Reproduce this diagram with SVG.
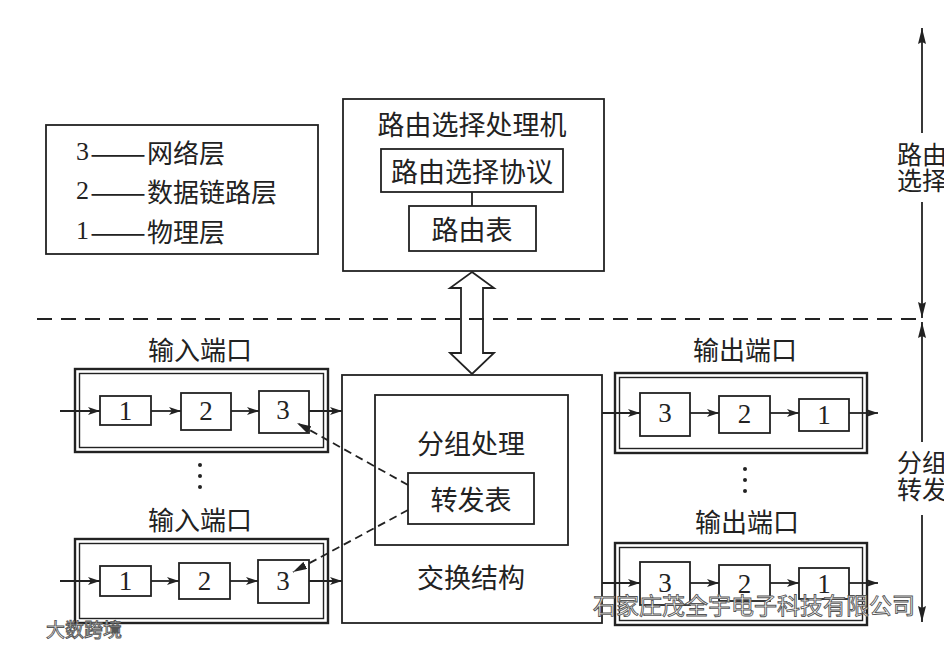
<svg xmlns="http://www.w3.org/2000/svg" width="944" height="645" viewBox="0 0 944 645">
<defs>
<style>
.box{fill:none;stroke:#222;stroke-width:1.8}
.outer{fill:none;stroke:#222;stroke-width:2.4}
.inner{fill:none;stroke:#222;stroke-width:1.4}
.ln{stroke:#222;stroke-width:1.8;fill:none}
.cn{font-family:"Noto Sans CJK SC","Noto Sans CJK JP",sans-serif;fill:#222;dominant-baseline:central}
.num{font-family:"Liberation Serif",serif;fill:#222;dominant-baseline:central}
.wm{font-family:"Noto Sans CJK SC",sans-serif;fill:#fff;stroke:#555;stroke-width:0.9;dominant-baseline:central}
</style>
<marker id="ah" viewBox="0 0 12 8" refX="12" refY="4" markerWidth="12" markerHeight="8" markerUnits="userSpaceOnUse" orient="auto">
<path d="M0,0 L12,4 L0,8 L3,4 Z" fill="#222"/>
</marker>
<marker id="ahl" viewBox="0 0 14 8" refX="14" refY="4" markerWidth="14" markerHeight="8" markerUnits="userSpaceOnUse" orient="auto">
<path d="M0,0 L14,4 L0,8 Z" fill="#222"/>
</marker>
<marker id="ahv" viewBox="0 0 16 8" refX="16" refY="4" markerWidth="16" markerHeight="8" markerUnits="userSpaceOnUse" orient="auto">
<path d="M0,0 L16,4 L0,8 L2,4 Z" fill="#222"/>
</marker>
</defs>
<rect width="944" height="645" fill="#fff"/>

<g id="legend">
<rect class="box" x="46" y="125" width="272" height="129"/>
<text class="cn" y="151" font-size="26"><tspan class="num" x="76">3</tspan><tspan x="90" textLength="56" lengthAdjust="spacingAndGlyphs">——</tspan><tspan x="147">网络层</tspan></text>
<text class="cn" y="190" font-size="26"><tspan class="num" x="76">2</tspan><tspan x="90" textLength="56" lengthAdjust="spacingAndGlyphs">——</tspan><tspan x="147">数据链路层</tspan></text>
<text class="cn" y="230" font-size="26"><tspan class="num" x="76">1</tspan><tspan x="90" textLength="56" lengthAdjust="spacingAndGlyphs">——</tspan><tspan x="147">物理层</tspan></text>
</g>

<g id="router-processor">
<rect class="box" x="343" y="99" width="261" height="172"/>
<text class="cn" x="472" y="123" font-size="27" text-anchor="middle">路由选择处理机</text>
</g>
<g id="routing-protocol">
<rect class="box" x="381" y="149" width="182" height="43"/>
<text class="cn" x="472" y="170" font-size="27" text-anchor="middle">路由选择协议</text>
</g>
<g id="routing-table">
<rect class="box" x="409" y="206" width="127" height="45"/>
<text class="cn" x="472" y="228" font-size="27" text-anchor="middle">路由表</text>
</g>

<g id="switch-fabric">
<rect class="box" x="342" y="375" width="260" height="248"/>
<text class="cn" x="471" y="576" font-size="27" text-anchor="middle">交换结构</text>
</g>
<g id="packet-processing">
<rect class="box" x="375" y="395" width="193" height="150"/>
<text class="cn" x="471" y="442" font-size="27" text-anchor="middle">分组处理</text>
</g>
<g id="forwarding-table">
<rect class="box" x="408" y="473" width="126" height="51"/>
<text class="cn" x="471" y="498" font-size="27" text-anchor="middle">转发表</text>
</g>

<g id="input-port-1">
<text class="cn" x="200" y="348" font-size="26" text-anchor="middle">输入端口</text>
<rect class="outer" x="75" y="369" width="253" height="83"/>
<rect class="inner" x="79.5" y="373.5" width="244" height="74"/>
<rect class="box" x="100" y="396" width="51" height="29"/>
<text class="num" x="125.5" y="411" font-size="27" text-anchor="middle">1</text>
<rect class="box" x="181" y="393" width="50" height="37"/>
<text class="num" x="206" y="411" font-size="27" text-anchor="middle">2</text>
<rect class="box" x="259" y="391" width="50" height="42"/>
<text class="num" x="283" y="410" font-size="27" text-anchor="middle">3</text>
</g>

<g id="input-port-2">
<text class="cn" x="200" y="518" font-size="26" text-anchor="middle">输入端口</text>
<rect class="outer" x="75" y="539" width="253" height="84"/>
<rect class="inner" x="79.5" y="543.5" width="244" height="75"/>
<rect class="box" x="100" y="566" width="51" height="30"/>
<text class="num" x="125.5" y="581" font-size="27" text-anchor="middle">1</text>
<rect class="box" x="179" y="563" width="51" height="36"/>
<text class="num" x="204.5" y="581" font-size="27" text-anchor="middle">2</text>
<rect class="box" x="258" y="560" width="51" height="43"/>
<text class="num" x="283" y="581" font-size="27" text-anchor="middle">3</text>
</g>

<g id="output-port-1">
<text class="cn" x="745" y="348" font-size="26" text-anchor="middle">输出端口</text>
<rect class="outer" x="615" y="373" width="252" height="80"/>
<rect class="inner" x="619.5" y="377.5" width="243" height="71"/>
<rect class="box" x="640" y="393" width="50" height="43"/>
<text class="num" x="665" y="413" font-size="27" text-anchor="middle">3</text>
<rect class="box" x="719" y="396" width="51" height="37"/>
<text class="num" x="744.5" y="414" font-size="27" text-anchor="middle">2</text>
<rect class="box" x="799" y="399" width="50" height="32"/>
<text class="num" x="824" y="415" font-size="27" text-anchor="middle">1</text>
</g>

<g id="output-port-2">
<text class="cn" x="747" y="520" font-size="26" text-anchor="middle">输出端口</text>
<rect class="outer" x="615" y="543" width="252" height="82"/>
<rect class="inner" x="619.5" y="547.5" width="243" height="73"/>
<rect class="box" x="640" y="562" width="50" height="43"/>
<text class="num" x="665" y="583" font-size="27" text-anchor="middle">3</text>
<rect class="box" x="719" y="565" width="51" height="36"/>
<text class="num" x="744.5" y="584" font-size="27" text-anchor="middle">2</text>
<rect class="box" x="799" y="568" width="50" height="31"/>
<text class="num" x="824" y="584" font-size="27" text-anchor="middle">1</text>
</g>

<g id="dots" fill="#222">
<circle cx="200" cy="465" r="2"/><circle cx="200" cy="476" r="2"/><circle cx="200" cy="487" r="2"/>
<circle cx="745" cy="469" r="2"/><circle cx="745" cy="480" r="2"/><circle cx="745" cy="491" r="2"/>
</g>

<g id="side-labels">
<text class="cn" x="897" y="153" font-size="25">路由</text>
<text class="cn" x="897" y="179" font-size="25">选择</text>
<text class="cn" x="897" y="461" font-size="25">分组</text>
<text class="cn" x="897" y="488" font-size="25">转发</text>
</g>

<g id="connectors">
<line class="ln" x1="37" y1="319" x2="922" y2="319" stroke-dasharray="15,9"/>
<polygon points="472,272 494,288 483,288 483,353 494,353 472,374 450,353 461,353 461,288 450,288" fill="none" stroke="#222" stroke-width="1.8"/>
<line class="ln" x1="472" y1="192" x2="472" y2="206"/>
<line class="ln" x1="60" y1="411" x2="100" y2="411" marker-end="url(#ah)"/>
<line class="ln" x1="151" y1="411" x2="181" y2="411" marker-end="url(#ah)"/>
<line class="ln" x1="231" y1="411" x2="259" y2="411" marker-end="url(#ah)"/>
<line class="ln" x1="309" y1="411" x2="342" y2="411" marker-end="url(#ah)"/>
<line class="ln" x1="60" y1="581" x2="100" y2="581" marker-end="url(#ah)"/>
<line class="ln" x1="151" y1="581" x2="179" y2="581" marker-end="url(#ah)"/>
<line class="ln" x1="230" y1="581" x2="258" y2="581" marker-end="url(#ah)"/>
<line class="ln" x1="309" y1="581" x2="342" y2="581" marker-end="url(#ah)"/>
<line class="ln" x1="602" y1="413" x2="640" y2="413" marker-end="url(#ah)"/>
<line class="ln" x1="690" y1="413" x2="719" y2="413" marker-end="url(#ah)"/>
<line class="ln" x1="770" y1="413" x2="799" y2="413" marker-end="url(#ah)"/>
<line class="ln" x1="849" y1="413" x2="878" y2="413" marker-end="url(#ah)"/>
<line class="ln" x1="602" y1="583" x2="640" y2="583" marker-end="url(#ah)"/>
<line class="ln" x1="690" y1="583" x2="719" y2="583" marker-end="url(#ah)"/>
<line class="ln" x1="770" y1="583" x2="799" y2="583" marker-end="url(#ah)"/>
<line class="ln" x1="849" y1="583" x2="878" y2="583" marker-end="url(#ah)"/>
<line class="ln" x1="408" y1="485" x2="297" y2="423" stroke-dasharray="8,5" stroke-width="2.2" marker-end="url(#ahl)"/>
<line class="ln" x1="408" y1="510" x2="293" y2="572" stroke-dasharray="8,5" stroke-width="2.2" marker-end="url(#ahl)"/>
<line class="ln" x1="922" y1="133" x2="922" y2="28" stroke-width="1.6" marker-end="url(#ahv)"/>
<line class="ln" x1="922" y1="202" x2="922" y2="318" stroke-width="1.6" marker-end="url(#ahv)"/>
<line class="ln" x1="922" y1="442" x2="922" y2="322" stroke-width="1.6" marker-end="url(#ahv)"/>
<line class="ln" x1="922" y1="515" x2="922" y2="622" stroke-width="1.6" marker-end="url(#ahv)"/>
</g>

<g id="watermarks">
<text class="wm" x="593" y="604" font-size="23">石家庄茂全宇电子科技有限公司</text>
<text class="wm" x="46" y="628" font-size="19">大数跨境</text>
</g>
</svg>
